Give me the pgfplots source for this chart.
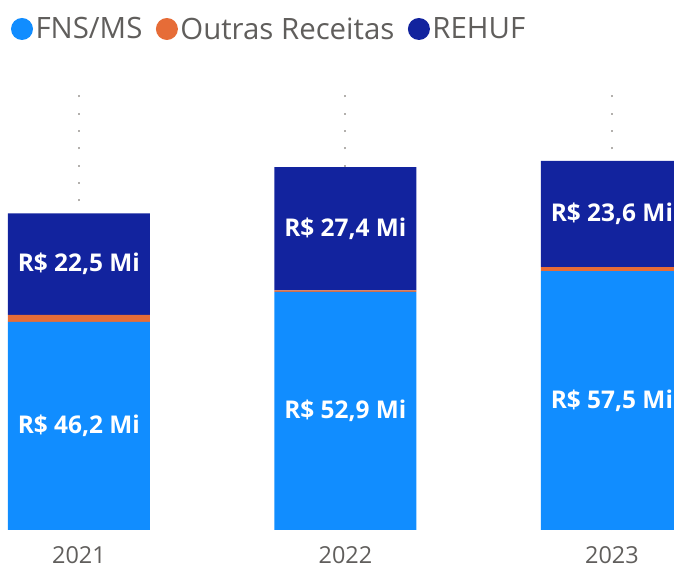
\documentclass[border=0pt]{standalone}
\usepackage{fontspec}
\setmainfont{Open Sans}
\usepackage{pgfplots}
\pgfplotsset{compat=1.18}
\definecolor{fns}{HTML}{118DFF}
\definecolor{outras}{HTML}{E66C37}
\definecolor{rehuf}{HTML}{12239E}
\definecolor{txt}{HTML}{605E5C}
\definecolor{gridc}{HTML}{B3B0AD}
\begin{document}
\begin{tikzpicture}
\useasboundingbox (0,0) rectangle (674bp,569bp);
\pgfplotsset{common/.style={
  scale only axis, width=674bp, height=439bp,
  at={(0bp,39bp)}, anchor=south west,
  xmin=-0.296, xmax=2.233, ymin=0, ymax=97.5,
  axis line style={draw=none},
  ytick=\empty, major tick length=0pt,
}}
\begin{axis}[common,
  ybar stacked, bar width=142bp,
  xtick={0,1,2}, xticklabels={2021,2022,2023},
  xticklabel style={font=\fontsize{23.5}{25}\selectfont, text=txt, anchor=north, inner sep=0pt, yshift=-16bp},
  xmajorgrids=true,
  major grid style={gridc, line width=2bp, dash pattern=on 2bp off 15.3bp},
  legend style={draw=none, fill=none, inner sep=0pt, outer sep=0pt,
    at={(0,1)}, anchor=west, xshift=11bp, yshift=62bp,
    legend columns=-1, font=\fontsize{29.5}{31}\selectfont, text=txt,
    nodes={inner sep=2.5bp},
    /tikz/every even column/.append style={column sep=11bp}},
  legend image code/.code={\fill[#1, draw=none] (0bp,0bp) circle (11bp);},
]
\addplot[fill=fns, draw=none] coordinates {(0,46.2) (1,52.9) (2,57.5)};
\addplot[fill=outras, draw=none] coordinates {(0,1.6) (1,0.3) (2,0.9)};
\addplot[fill=rehuf, draw=none] coordinates {(0,22.5) (1,27.4) (2,23.6)};
\legend{FNS/MS, Outras Receitas, REHUF}
\end{axis}
\begin{axis}[common, xtick=\empty, clip=false]
\addplot[draw=none, mark=none, nodes near coords, point meta=explicit symbolic,
  every node near coord/.style={anchor=center, text=white, font=\fontsize{24.5}{26}\bfseries}]
  coordinates {
  (0,23.1) [R\$ 46,2 Mi]
  (1,26.45) [R\$ 52,9 Mi]
  (2,28.75) [R\$ 57,5 Mi]
  (0,59.05) [R\$ 22,5 Mi]
  (1,66.9) [R\$ 27,4 Mi]
  (2,70.2) [R\$ 23,6 Mi]
  };
\end{axis}
\end{tikzpicture}
\end{document}
